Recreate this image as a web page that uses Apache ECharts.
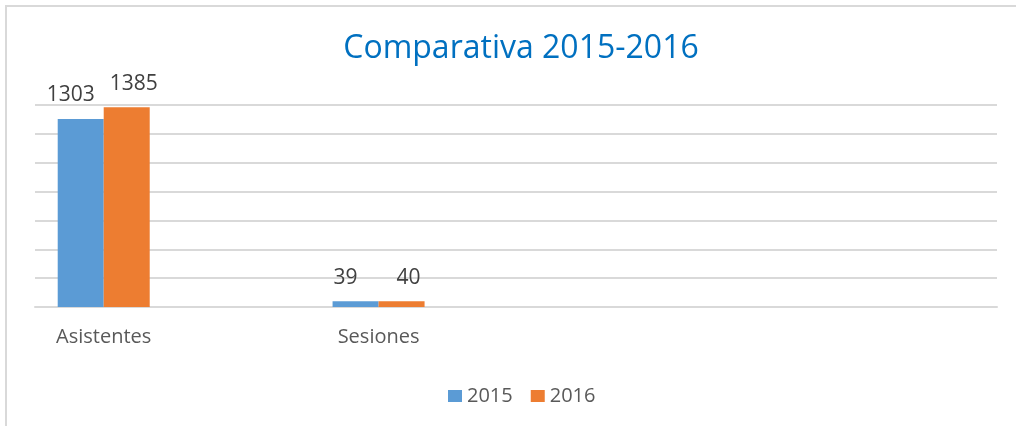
<!DOCTYPE html>
<html>
<head>
<meta charset="utf-8">
<script src="https://cdn.jsdelivr.net/npm/echarts@6/dist/echarts.min.js"></script>
<style>
    body { margin: 0; background: #fff; }
    .frame {
        position: absolute;
        left: 5px;
        top: 5px;
        width: 1011px;
        height: 421px;
        border-left: 2px solid #d9d9d9;
        border-top: 2px solid #d9d9d9;
    }
    .chart { position: absolute; left: 0; top: 0; width: 1016px; height: 426px; }
</style>
</head>
<body>
<div class="frame"></div>
<div class="chart"></div>
<script>
// 数据
var categories = ["Asistentes", "", "Sesiones", "", "", "", ""];
var years = ["2015", "2016"];
var values2015 = [1303, null, 39, null, null, null, null];
var values2016 = [1385, null, 40, null, null, null, null];
var axisMax = 1400;
var axisStep = 200;

(function() {
    var font = "'Open Sans', sans-serif";
    var myChart = echarts.init(document.querySelector(".chart"));
    var option = {
        animation: false,
        color: ["#5b9bd5", "#ed7d31"],
        title: {
            text: "Comparativa 2015-2016",
            left: 516,
            textAlign: "center",
            top: 28,
            textStyle: {
                color: "#0070c0",
                fontSize: 32,
                fontWeight: "normal",
                fontFamily: font
            }
        },
        legend: {
            data: years,
            left: 443,
            top: 381,
            itemWidth: 14,
            itemHeight: 12,
            itemGap: 18,
            icon: "rect",
            textStyle: {
                color: "#595959",
                fontSize: 20,
                fontFamily: font
            }
        },
        grid: {
            left: 35,
            right: 19,
            top: 105,
            bottom: 119
        },
        xAxis: {
            type: "category",
            data: categories,
            axisTick: { show: false },
            axisLine: {
                lineStyle: { color: "#d9d9d9", width: 2 }
            },
            axisLabel: {
                color: "#595959",
                fontSize: 20,
                fontFamily: font,
                margin: 20,
                interval: 0
            }
        },
        yAxis: {
            type: "value",
            min: 0,
            max: axisMax,
            interval: axisStep,
            axisLabel: { show: false },
            axisLine: { show: false },
            axisTick: { show: false },
            splitLine: {
                lineStyle: { color: "#d9d9d9", width: 2 }
            }
        },
        series: [{
            name: years[0],
            type: "bar",
            data: values2015,
            barWidth: 46,
            barGap: "0%",
            label: {
                show: true,
                position: "top",
                distance: 13,
                offset: [-10, 0],
                color: "#404040",
                fontSize: 21,
                fontFamily: font
            }
        }, {
            name: years[1],
            type: "bar",
            data: values2016,
            barWidth: 46,
            label: {
                show: true,
                position: "top",
                distance: 13,
                offset: [7, 0],
                color: "#404040",
                fontSize: 21,
                fontFamily: font
            }
        }]
    };
    myChart.setOption(option);
    window.addEventListener("resize", function() {
        myChart.resize();
    });
})();
</script>
</body>
</html>
